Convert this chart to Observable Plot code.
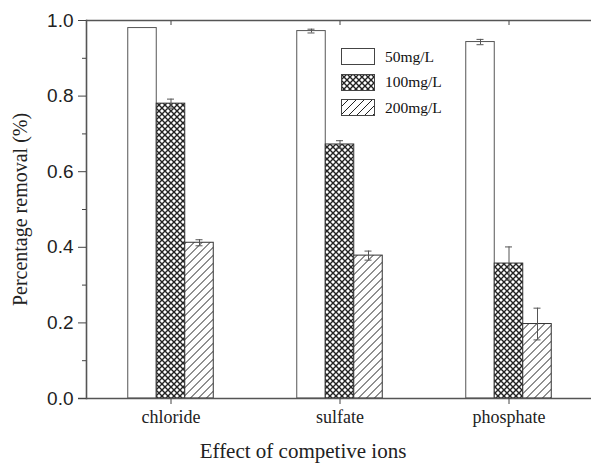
<!DOCTYPE html>
<html>
<head>
<meta charset="utf-8">
<script src="https://cdn.jsdelivr.net/npm/d3@7"></script>
<script src="https://cdn.jsdelivr.net/npm/@observablehq/plot@0.6"></script>
<style>
  body { margin: 0; overflow: hidden; background: #fff; }
  #chart { position: relative; width: 591px; height: 465px; overflow: hidden; }
  #chart > svg { max-width: none !important; }
  #legend { position: absolute; left: 341px; top: 44px; font-family: "Liberation Serif", "Times New Roman", serif; font-size: 15.5px; color: #111; }
  #legend .item { display: flex; align-items: center; height: 25.5px; }
  #legend svg { margin-right: 10px; }
</style>
</head>
<body>
<div id="chart"><div id="legend"></div></div>
<script>
// Competing ions and the three initial concentrations
const ions = ["chloride", "sulfate", "phosphate"];
const series = ["50mg/L", "100mg/L", "200mg/L"];

// Percentage removal per ion, one array per concentration
const removal50 = [0.98, 0.972, 0.943];
const removal100 = [0.78, 0.672, 0.357];
const removal200 = [0.412, 0.378, 0.197];

// Standard deviations (error bars)
const err50 = [0, 0.005, 0.007];
const err100 = [0.012, 0.01, 0.044];
const err200 = [0.008, 0.012, 0.042];

const yTicks = [0, 0.2, 0.4, 0.6, 0.8, 1.0];
const yMinorTicks = [0.1, 0.3, 0.5, 0.7, 0.9];

const values = [removal50, removal100, removal200];
const errors = [err50, err100, err200];
const rows = ions.flatMap((ion, i) =>
  series.map((s, j) => ({ion, series: s, value: values[j][i], err: errors[j][i]}))
);

// Layout
const width = 600, height = 465;
const marginLeft = 86, marginRight = 7, marginTop = 20, marginBottom = 67;
const band = (width - marginLeft - marginRight) / ions.length;
const barWidth = 28.5;
const barInset = band / 2 - barWidth / 2;
const capInset = band / 2 - 3.5;
const offsets = [-barWidth, 0, barWidth];
const fills = ["#fff", "url(#pat-cross)", "url(#pat-hatch)"];
const ink = "#222";
const serif = "Liberation Serif";
const sans = "Liberation Sans";

const marks = [];
series.forEach((s, j) => {
  const data = rows.filter(d => d.series === s);
  const withErr = data.filter(d => d.err > 0);
  marks.push(
    Plot.barY(data, {x: "ion", y: "value", dx: offsets[j], insetLeft: barInset, insetRight: barInset,
      fill: fills[j], stroke: j === 0 ? "#555" : "#333", strokeWidth: 1}),
    Plot.ruleX(withErr, {x: "ion", y1: d => d.value - d.err, y2: d => d.value + d.err, dx: offsets[j], stroke: "#555", strokeWidth: 1}),
    Plot.tickY(withErr, {x: "ion", y: d => d.value + d.err, dx: offsets[j], insetLeft: capInset, insetRight: capInset, stroke: "#555", strokeWidth: 1}),
    Plot.tickY(withErr, {x: "ion", y: d => d.value - d.err, dx: offsets[j], insetLeft: capInset, insetRight: capInset, stroke: "#555", strokeWidth: 1})
  );
});

const chart = Plot.plot({
  width, height, marginLeft, marginRight, marginTop, marginBottom,
  style: {background: "#fff", color: ink, fontFamily: serif, maxWidth: "none"},
  x: {domain: ions, padding: 0},
  y: {domain: [0, 1]},
  marks: [
    ...marks,
    Plot.ruleY([0], {stroke: "#555", strokeWidth: 1.6, insetLeft: -8}),
    Plot.ruleY([1], {stroke: "#555", strokeWidth: 1.6}),
    Plot.frame({anchor: "left", stroke: "#555", strokeWidth: 1.6}),
    Plot.axisY({ticks: yTicks, tickFormat: ".1f", tickSize: 8, tickPadding: 5, fontSize: 19,
      fontFamily: sans, label: null, stroke: "#444"}),
    Plot.axisY({ticks: yMinorTicks, tickSize: 4, tickFormat: () => "", label: null, stroke: "#444"}),
    Plot.axisX({tickSize: 6, tickPadding: 6, fontSize: 18, fontFamily: serif, label: null, stroke: "#444"}),
    Plot.axisX({anchor: "top", tickSize: -4, tickFormat: () => "", label: null, stroke: "#444"}),
    Plot.text(["Percentage removal (%)"], {frameAnchor: "left", rotate: -90, dx: -66,
      textAnchor: "middle", lineAnchor: "middle", fontSize: 20, fontFamily: serif, fill: ink}),
    Plot.text(["Effect of competive ions"], {frameAnchor: "bottom", dx: -37, dy: 53,
      textAnchor: "middle", lineAnchor: "middle", fontSize: 21, fontFamily: serif, fill: ink})
  ]
});

// Fill patterns for the 100 mg/L (cross-hatch) and 200 mg/L (diagonal) bars
function addPatterns(svg, suffix) {
  const defs = d3.select(svg).insert("defs", ":first-child");
  const cross = defs.append("pattern").attr("id", "pat-cross" + suffix)
    .attr("patternUnits", "userSpaceOnUse").attr("width", 6).attr("height", 6);
  cross.append("rect").attr("width", 6).attr("height", 6).attr("fill", "#fff");
  cross.append("path").attr("d", "M0,0L6,6M6,0L0,6").attr("stroke", "#222").attr("stroke-width", 1.4);
  const hatch = defs.append("pattern").attr("id", "pat-hatch" + suffix)
    .attr("patternUnits", "userSpaceOnUse").attr("width", 8).attr("height", 8);
  hatch.append("rect").attr("width", 8).attr("height", 8).attr("fill", "#fff");
  hatch.append("path").attr("d", "M0,8L8,0M-2,2L2,-2M6,10L10,6").attr("stroke", "#222").attr("stroke-width", 1);
}
addPatterns(chart, "");

const container = document.getElementById("chart");
container.insertBefore(chart, container.firstChild);

// Legend drawn inside the plot area
const legend = d3.select("#legend");
series.forEach((s, j) => {
  const item = legend.append("div").attr("class", "item");
  const sw = item.append("svg").attr("width", 34).attr("height", 17);
  addPatterns(sw.node(), "-lg" + j);
  sw.append("rect").attr("x", 0.5).attr("y", 0.5).attr("width", 33).attr("height", 16)
    .attr("fill", j === 0 ? "#fff" : (j === 1 ? "url(#pat-cross-lg1)" : "url(#pat-hatch-lg2)"))
    .attr("stroke", "#444").attr("stroke-width", 1);
  item.append("span").text(s);
});
</script>
</body>
</html>
